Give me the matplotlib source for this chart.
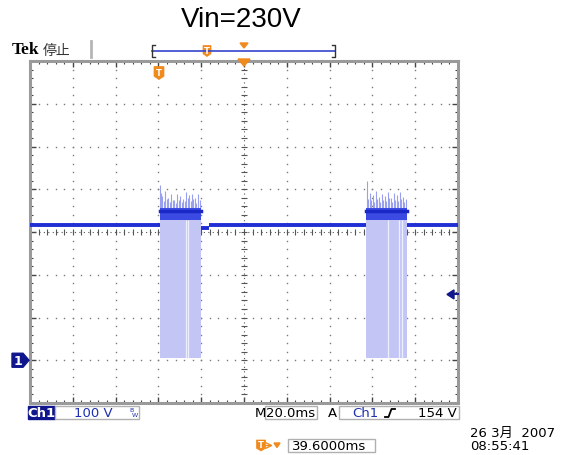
import matplotlib
matplotlib.use('Agg')
import matplotlib.pyplot as plt
from matplotlib.patches import Polygon, Rectangle
import numpy as np

W, H = 562, 456

# ---------------- data ----------------
t_range = (0.0, 200.0)          # ms, 20 ms/div
v_range = (-100.0, 700.0)       # V, 100 V/div (ground 3 div below centre)
major_t = list(range(0, 201, 20))
major_v = list(range(-100, 701, 100))

# baseline trace segments (start ms, end ms, level V)
base_start = [0.0, 79.8, 83.5, 176.0]
base_end = [60.7, 83.5, 157.2, 200.0]
base_level = [317, 309, 317, 317]

# switching bursts
burst_start = [60.7, 157.2]
burst_end = [79.8, 176.0]
burst_level = 343
burst_floor = 6

spike_t1 = [60.8, 61.2, 61.7, 62.4, 63.1, 63.8, 64.5, 65.2, 65.9, 66.6, 67.3, 68.0, 68.7, 69.4,
            70.1, 70.8, 71.5, 72.2, 72.9, 73.6, 74.3, 75.0, 75.7, 76.4, 77.1, 77.8, 78.5, 79.4]
spike_v1 = [410, 392, 385, 372, 395, 378, 380, 370, 390, 374, 375, 368, 388, 376,
            384, 371, 378, 373, 393, 380, 386, 372, 390, 377, 380, 369, 388, 376]
spike_t2 = [157.4, 158.1, 158.8, 159.5, 160.2, 160.9, 161.6, 162.3, 163.0, 163.7, 164.4, 165.1,
            165.8, 166.5, 167.2, 167.9, 168.6, 169.3, 170.0, 170.7, 171.4, 172.1, 172.8, 173.5,
            174.2, 174.9, 175.6]
spike_v2 = [420, 378, 392, 374, 386, 370, 395, 377, 382, 371, 390, 376, 384, 372, 394, 379,
            380, 370, 391, 375, 386, 373, 393, 378, 383, 370, 378]
gap_t1 = [72.9, 73.6]
gap_t2 = [167.3, 172.4, 173.8]

trigger_level = 154

# ---------------- figure ----------------
fig = plt.figure(figsize=(W / 100, H / 100), dpi=100)
fig.patch.set_facecolor('white')
ax_l, ax_t, ax_r, ax_b = 30, 62, 458, 404
ax = fig.add_axes([ax_l / W, 1 - ax_b / H, (ax_r - ax_l) / W, (ax_b - ax_t) / H])
ax.set_xlim(*t_range)
ax.set_ylim(*v_range)

# grid dots
minor_t = np.arange(t_range[0], t_range[1] + 0.01, 4)
minor_v = np.arange(v_range[0], v_range[1] + 0.01, 20)
for gx in major_t[1:-1]:
    if gx == 100:
        continue
    ax.plot([gx] * len(minor_v), minor_v, ls='none', marker='s', ms=1.0, color='#7a7a7a', mew=0)
for gy in major_v[1:-1]:
    if gy == 300:
        continue
    ax.plot(minor_t, [gy] * len(minor_t), ls='none', marker='s', ms=1.0, color='#7a7a7a', mew=0)
# centre cross with ticks
ax.plot(minor_t, [300] * len(minor_t), ls='none', marker='|', ms=5, color='#555555', mew=0.8)
ax.plot([100] * len(minor_v), minor_v, ls='none', marker='_', ms=5, color='#555555', mew=0.8)
ax.plot(t_range, [300, 300], ls=(0, (1, 3)), color='#555555', lw=0.8)
ax.plot([100, 100], v_range, ls=(0, (1, 3)), color='#555555', lw=0.8)

# bursts
for bs, be, st, sv, gt in [(burst_start[0], burst_end[0], spike_t1, spike_v1, gap_t1),
                           (burst_start[1], burst_end[1], spike_t2, spike_v2, gap_t2)]:
    ax.fill_between([bs, be], burst_floor, burst_level, color='#c3c6f5', lw=0, zorder=2)
    ax.vlines(gt, burst_floor, burst_level - 14, color='#eeeffc', lw=0.9, zorder=2.5)
    ax.vlines(st, burst_level, sv, color='#9aa0f0', lw=0.8, zorder=3)
    ax.fill_between([bs, be], burst_level - 15, burst_level + 14, color='#3a4ae2', lw=0, zorder=3.5)
    ax.plot([bs, be], [burst_level + 6, burst_level + 6], color='#1a28c8', lw=2.5, zorder=3.6)

for s, e, lv in zip(base_start, base_end, base_level):
    ax.plot([s, e], [lv, lv], color='#1f2fd4', lw=2.8, solid_capstyle='butt', zorder=4)

# frame / ruler
for sp in ax.spines.values():
    sp.set_color('#9a9a9a')
    sp.set_linewidth(2.2)
ax.set_xticks(major_t)
ax.set_yticks(major_v)
ax.set_xticks(minor_t, minor=True)
ax.set_yticks(minor_v, minor=True)
ax.tick_params(which='both', direction='in', top=True, right=True,
               labelbottom=False, labelleft=False, color='#444444')
ax.tick_params(which='major', length=4, width=1)
ax.tick_params(which='minor', length=2.5, width=0.8)

# ---------------- overlay (pixel coords) ----------------
ov = fig.add_axes([0, 0, 1, 1], zorder=5)
ov.set_xlim(0, W)
ov.set_ylim(H, 0)
ov.axis('off')
ov.patch.set_alpha(0)


def vpx(v):
    return ax_t + (v_range[1] - v) / (v_range[1] - v_range[0]) * (ax_b - ax_t)


ORANGE = '#f08a1c'
NAVY = '#10168c'
BLUE_T = '#2030b0'


def tshield(x, y, w=10, h=12):
    pts = [(x - w / 2, y - h / 2), (x + w / 2, y - h / 2), (x + w / 2, y + h / 4),
           (x, y + h / 2), (x - w / 2, y + h / 4)]
    ov.add_patch(Polygon(pts, closed=True, fc=ORANGE, ec=ORANGE, lw=0.5))
    ov.text(x, y - 0.5, 'T', color='white', fontsize=6, fontweight='bold',
            ha='center', va='center', family='DejaVu Sans')


ov.text(241, 20, 'Vin=230V', fontsize=20, family='Liberation Sans', ha='center', va='center')
ov.text(12, 50, 'Tek', fontsize=12.5, family='Liberation Serif', fontweight='bold', va='center')
ov.text(43, 51, '停止', fontsize=10, family=['Noto Sans CJK JP', 'DejaVu Sans'], color='#333333', va='center')
ov.plot([91, 91], [42, 58], color='#b5b5b5', lw=2)

# record bracket
ov.plot([152, 335], [52, 52], color='#3344cc', lw=1.2)
ov.plot([155, 152, 152, 155], [46, 46, 58, 58], color='#333333', lw=1)
ov.plot([332, 335, 335, 332], [46, 46, 58, 58], color='#333333', lw=1)
tshield(207, 52, 8, 11)
ov.add_patch(Polygon([(240, 44), (248, 44), (244, 49)], closed=True, fc=ORANGE, ec=ORANGE))
ov.add_patch(Polygon([(238, 60), (250, 60), (244, 67)], closed=True, fc=ORANGE, ec=ORANGE))
tshield(159, 74, 10, 13)

# channel ground marker
gy = vpx(0)
ov.add_patch(Polygon([(12, gy - 7), (23, gy - 7), (29, gy), (23, gy + 7), (12, gy + 7)],
                     closed=True, fc=NAVY, ec=NAVY))
ov.text(18, gy, '1', color='white', fontsize=9, fontweight='bold', ha='center', va='center')

# trigger level marker
ty = vpx(trigger_level)
ov.add_patch(Polygon([(447, ty), (454, ty - 4.5), (454, ty + 4.5)], closed=True, fc=NAVY, ec=NAVY))
ov.plot([454, 458], [ty, ty], color=NAVY, lw=1.5)

# status bar
fs = 9.5
ov.add_patch(Rectangle((28, 407.5), 27, 12.5, fc=NAVY, ec=NAVY))
ov.text(41.5, 414, 'Ch1', color='white', fontsize=fs, fontweight='bold', ha='center', va='center')
ov.add_patch(Rectangle((55, 407.5), 84, 12.5, fc='white', ec='#b0b0b0', lw=1))
ov.text(93, 414, '100 V', color=BLUE_T, fontsize=fs, ha='center', va='center')
ov.text(131, 411, 'B', color=BLUE_T, fontsize=4.5, ha='center', va='center')
ov.text(135, 416, 'W', color=BLUE_T, fontsize=4.5, ha='center', va='center')

ov.text(260, 414, 'M', color='black', fontsize=fs, ha='center', va='center')
ov.add_patch(Rectangle((265, 407.5), 52, 12.5, fc='white', ec='#b0b0b0', lw=1))
ov.text(291, 414, '20.0ms', color='black', fontsize=fs, ha='center', va='center')
ov.text(332, 414, 'A', color='black', fontsize=fs, ha='center', va='center')
ov.add_patch(Rectangle((339, 407.5), 120, 12.5, fc='white', ec='#b0b0b0', lw=1))
ov.text(352, 414, 'Ch1', color=BLUE_T, fontsize=fs, ha='left', va='center')
ov.plot([385, 388.5, 391.5, 395], [418, 418, 410, 410], color='black', lw=1.3)
ov.text(457, 414, '154 V', color='black', fontsize=fs, ha='right', va='center')

tshield(261, 446.5, 9, 11)
ov.annotate('', xy=(273, 446.5), xytext=(266, 446.5),
            arrowprops=dict(arrowstyle='->', color=ORANGE, lw=1, shrinkA=0, shrinkB=0))
ov.add_patch(Polygon([(274, 444), (280, 444), (277, 448.5)], closed=True, fc=ORANGE, ec=ORANGE))
ov.add_patch(Rectangle((288, 440), 87, 13, fc='white', ec='#b0b0b0', lw=1))
ov.text(292, 446.5, '39.6000ms', color='black', fontsize=fs, ha='left', va='center')

ov.text(470, 433, '26 3月  2007', color='black', fontsize=fs,
        family=['DejaVu Sans', 'Noto Sans CJK JP'], ha='left', va='center')
ov.text(470, 447, '08:55:41', color='black', fontsize=fs, ha='left', va='center')

fig.savefig('out.png', dpi=100)
